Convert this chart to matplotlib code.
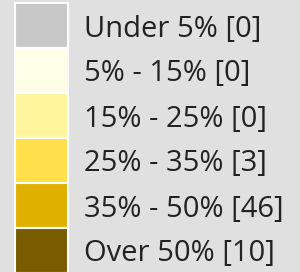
import numpy as np
import matplotlib.pyplot as plt

# legend data
labels = ['Under 5%', '5% - 15%', '15% - 25%', '25% - 35%', '35% - 50%', 'Over 50%']
counts = [0, 0, 0, 3, 46, 10]
colors = ['#c8c8c8', '#ffffe8', '#fff59d', '#ffe04a', '#e0b000', '#7a5c00']

fig = plt.figure(figsize=(3.0, 2.72), dpi=100, facecolor='#e0e0e0')
ax = fig.add_axes([0, 0, 1, 1])
ax.set_facecolor('#e0e0e0')

y = np.arange(len(labels))
ax.barh(y, 53, left=15, height=1.0, color=colors, edgecolor='white', linewidth=1.5)

for i, (lab, c) in enumerate(zip(labels, counts)):
    ax.text(84, i, f'{lab} [{c}]', va='center_baseline', ha='left',
            fontsize=21, family='Open Sans', color='#222222')

unit = 45 / 1.0
top = -0.5 - 3 / unit
ax.set_ylim(top + 272 / unit, top)
ax.set_xlim(0, 300)
ax.axis('off')

fig.savefig('out.png', dpi=100, facecolor=fig.get_facecolor())
